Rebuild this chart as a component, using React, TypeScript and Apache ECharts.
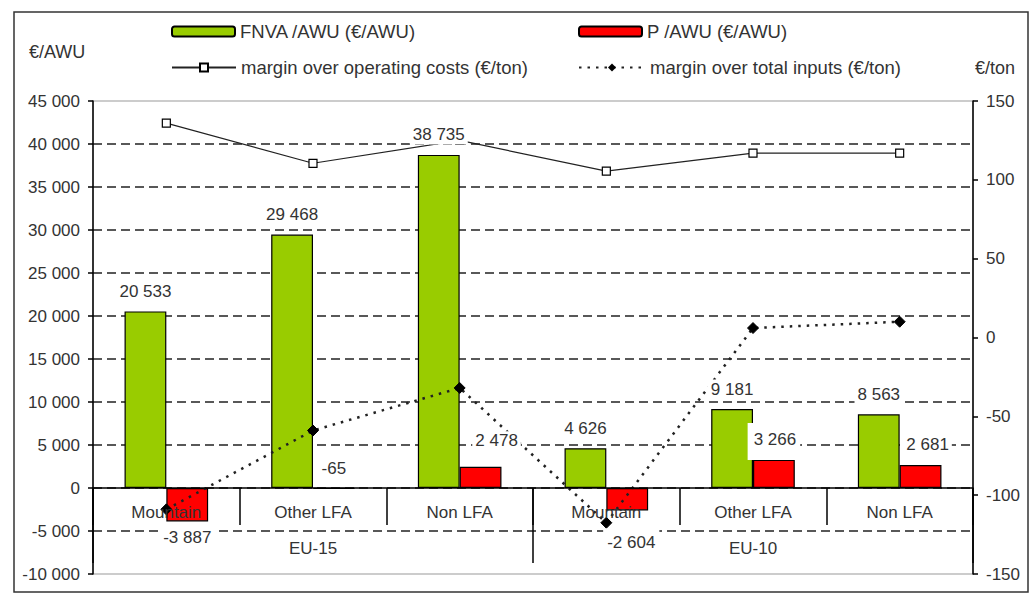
import React, { useEffect, useRef } from 'react';
import * as echarts from 'echarts';

const categories = ['Mountain', 'Other LFA', 'Non LFA', 'Mountain', 'Other LFA', 'Non LFA'];
const groups = ['EU-15', 'EU-10'];
const fnvaPerAwu = [20533, 29468, 38735, 4626, 9181, 8563];
const profitPerAwu = [-3887, -65, 2478, -2604, 3266, 2681];
const marginOperating = [136, 110.5, 125, 105.5, 117, 117];
const marginTotal = [-109, -59, -32, -117.5, 6, 10];
const seriesNames = [
  'FNVA /AWU (€/AWU)',
  'P /AWU (€/AWU)',
  'margin over operating costs (€/ton)',
  'margin over total inputs (€/ton)',
];
const leftAxisName = '€/AWU';
const rightAxisName = '€/ton';

// label placement (styling only)
const fnvaLabelPlacement = [
  { position: 'top', distance: 10.5 },
  { position: 'top', distance: 10.5 },
  { position: 'top', distance: 10.5 },
  { position: 'top', distance: 10.5 },
  { position: 'top', distance: 10.5 },
  { position: 'top', distance: 10.5 },
];
const profitLabelPlacement = [
  { position: 'bottom', distance: 2, offset: [0, 0], padding: [6, 4, 1, 4] },
  { position: 'top', distance: 10.5 },
  { position: 'top', distance: 10.5, offset: [16, -6] },
  { position: 'bottom', distance: 18, offset: [4, 0], padding: [6, 4, 1, 4] },
  { position: 'top', distance: 0, padding: [8, 4, 12, 6] },
  { position: 'top', distance: 10.5, offset: [7, 0] },
];

const FONT = '"Liberation Sans", Arial, sans-serif';
const TXT = '#333';
const FS = 17;
const LEGEND_FS = 18.5;

const fmt = (v: number) => String(v).replace(/\B(?=(\d{3})+(?!\d))/g, ' ');

export default function App() {
  const ref = useRef<HTMLDivElement>(null);
  useEffect(() => {
    if (!ref.current) return;
    const chart = echarts.init(ref.current, undefined, { renderer: 'svg' });
    const barCommon = {
      type: 'bar',
      barGap: 0,
      barCategoryGap: '43%',
      yAxisIndex: 0,
    };
    const labelData = (vals: number[], placement: any[]) =>
      vals.map((v, i) => ({
        value: v,
        label: {
          show: true,
          position: placement[i].position,
          distance: placement[i].distance,
          offset: placement[i].offset || [0, 0],
          padding: placement[i].padding || [1, 3],
          backgroundColor: '#fff',
          color: TXT,
          fontSize: FS,
          fontFamily: FONT,
          formatter: () => fmt(v),
        },
      }));
    const legendBase = {
      padding: 0,
      itemHeight: 10,
      textStyle: { fontSize: LEGEND_FS, color: TXT, fontFamily: FONT },
      selectedMode: false,
    };
    const axisGrid = {
      left: 93,
      right: 59,
      top: 101,
      bottom: 108,
      show: false,
      outerBoundsMode: 'none',
      containLabel: false,
    };
    const catAxisLabel = { interval: 0, fontSize: FS, color: TXT, fontFamily: FONT };
    chart.setOption({
      animation: false,
      textStyle: { fontFamily: FONT },
      grid: [
        {
          left: 93,
          right: 59,
          top: 101,
          bottom: 22,
          show: true,
          borderColor: '#999',
          borderWidth: 1,
          backgroundColor: 'transparent',
          outerBoundsMode: 'none',
          containLabel: false,
        },
        { ...axisGrid },
        { ...axisGrid },
      ],
      legend: [
        { ...legendBase, data: [seriesNames[0]], left: 171, top: 22, itemWidth: 63 },
        { ...legendBase, data: [seriesNames[1]], left: 578, top: 22, itemWidth: 63 },
        { ...legendBase, data: [seriesNames[2]], left: 171, top: 58, itemWidth: 64 },
        { ...legendBase, data: [seriesNames[3]], left: 578, top: 58, itemWidth: 66 },
      ],
      xAxis: [
        {
          type: 'category',
          gridIndex: 0,
          data: categories,
          z: 5,
          axisLine: { onZero: true, onZeroAxisIndex: 0, lineStyle: { color: '#000', width: 1.5 } },
          axisTick: { show: false },
          axisLabel: { show: false },
          splitLine: { show: false },
        },
        {
          type: 'category',
          gridIndex: 0,
          data: categories,
          show: false,
        },
        {
          type: 'category',
          gridIndex: 1,
          data: categories,
          position: 'bottom',
          z: 5,
          axisLine: { show: false, onZero: false },
          axisTick: { show: true, interval: 0, length: 37, lineStyle: { color: '#000', width: 1.5 } },
          axisLabel: { ...catAxisLabel, margin: 16 },
          splitLine: { show: false },
        },
        {
          type: 'category',
          gridIndex: 2,
          data: groups,
          position: 'bottom',
          z: 5,
          axisLine: { show: false, onZero: false },
          axisTick: { show: true, interval: 0, length: 75, lineStyle: { color: '#000', width: 1.5 } },
          axisLabel: { ...catAxisLabel, margin: 52 },
          splitLine: { show: false },
        },
      ],
      yAxis: [
        {
          type: 'value',
          gridIndex: 0,
          min: -10000,
          max: 45000,
          interval: 5000,
          position: 'left',
          axisLine: { show: true, lineStyle: { color: '#000', width: 1.5 } },
          axisTick: { show: true, length: 5, lineStyle: { color: '#000', width: 1.5 } },
          axisLabel: { margin: 13, fontSize: FS, color: TXT, fontFamily: FONT, formatter: (v: number) => fmt(v) },
          splitLine: {
            show: true,
            showMinLine: false,
            showMaxLine: false,
            lineStyle: { color: '#222', width: 1.5, type: [9, 5] },
          },
        },
        {
          type: 'value',
          gridIndex: 0,
          min: -150,
          max: 150,
          interval: 50,
          position: 'right',
          axisLine: { show: true, lineStyle: { color: '#000', width: 1.5 } },
          axisTick: { show: true, length: 5, lineStyle: { color: '#000', width: 1.5 } },
          axisLabel: { margin: 13, fontSize: FS, color: TXT, fontFamily: FONT },
          splitLine: { show: false },
        },
        { type: 'value', gridIndex: 1, show: false, min: 0, max: 1 },
        { type: 'value', gridIndex: 2, show: false, min: 0, max: 1 },
      ],
      series: [
        {
          ...barCommon,
          name: seriesNames[0],
          xAxisIndex: 0,
          z: 2,
          data: fnvaPerAwu,
          itemStyle: { color: '#99CC00', borderColor: '#000', borderWidth: 1.2 },
        },
        {
          ...barCommon,
          name: seriesNames[1],
          xAxisIndex: 0,
          z: 2,
          data: profitPerAwu,
          itemStyle: { color: '#FF0000', borderColor: '#000', borderWidth: 1.2 },
        },
        {
          type: 'line',
          name: seriesNames[2],
          xAxisIndex: 0,
          yAxisIndex: 1,
          z: 3,
          data: marginOperating,
          symbol: 'rect',
          symbolSize: 8,
          lineStyle: { color: '#222', width: 1.2 },
          itemStyle: { color: '#fff', borderColor: '#000', borderWidth: 1.2 },
        },
        {
          type: 'line',
          name: seriesNames[3],
          xAxisIndex: 0,
          yAxisIndex: 1,
          z: 3,
          data: marginTotal,
          symbol: 'diamond',
          symbolSize: 11,
          lineStyle: { color: '#222', width: 2.5, type: [2.5, 6] },
          itemStyle: { color: '#000', borderColor: '#000' },
        },
        {
          ...barCommon,
          name: 'fnva-labels',
          xAxisIndex: 1,
          z: 4,
          silent: true,
          data: labelData(fnvaPerAwu, fnvaLabelPlacement),
          itemStyle: { color: 'rgba(0,0,0,0)', borderWidth: 0 },
        },
        {
          ...barCommon,
          name: 'profit-labels',
          xAxisIndex: 1,
          z: 4,
          silent: true,
          data: labelData(profitPerAwu, profitLabelPlacement),
          itemStyle: { color: 'rgba(0,0,0,0)', borderWidth: 0 },
        },
      ],
      graphic: [
        {
          type: 'rect',
          shape: { x: 14, y: 12, width: 1014, height: 580 },
          style: { fill: 'none', stroke: '#333', lineWidth: 1.5 },
          silent: true,
        },
        {
          type: 'text',
          left: 29,
          top: 43,
          style: { text: leftAxisName, fontSize: 18, fill: TXT, fontFamily: FONT },
        },
        {
          type: 'text',
          left: 975,
          top: 59,
          style: { text: rightAxisName, fontSize: 18, fill: TXT, fontFamily: FONT },
        },
      ],
    });
    return () => chart.dispose();
  }, []);
  return (
    <div
      ref={ref}
      style={{ position: 'fixed', left: 0, top: 0, width: 1032, height: 596, background: '#fff' }}
    />
  );
}
